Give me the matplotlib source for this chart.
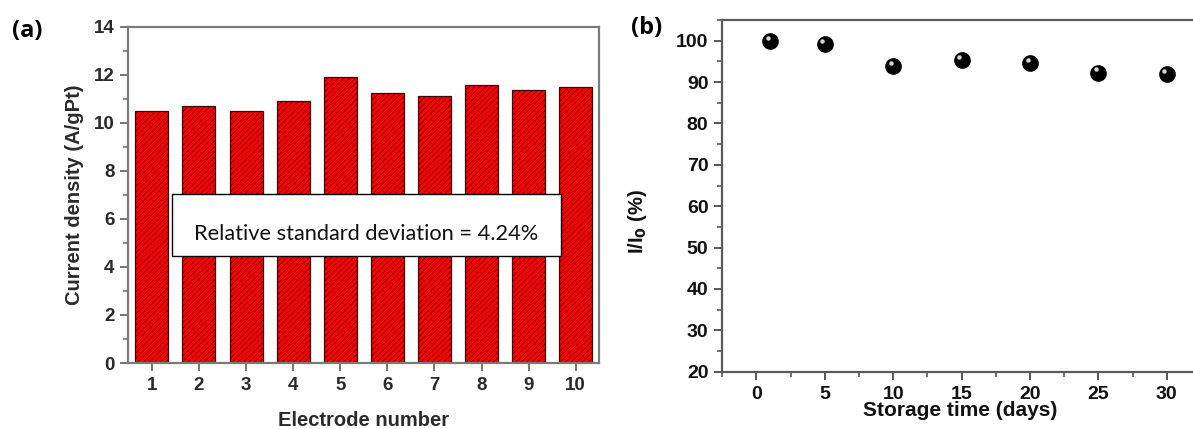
import numpy as np
import matplotlib
matplotlib.use('Agg')
import matplotlib.pyplot as plt
from matplotlib.patches import Rectangle
from matplotlib.ticker import MultipleLocator
import matplotlib.transforms as mtransforms

# panel (a) data
electrodes = [1, 2, 3, 4, 5, 6, 7, 8, 9, 10]
current_density = [10.5, 10.7, 10.5, 10.9, 11.92, 11.25, 11.13, 11.58, 11.35, 11.47]

# panel (b) data
storage_days = [1, 5, 10, 15, 20, 25, 30]
retention = [100.0, 99.1, 93.9, 95.3, 94.7, 92.3, 91.9]

W, H = 1193, 429
plt.rcParams['font.family'] = 'Liberation Sans'
plt.rcParams['hatch.linewidth'] = 0.45

fig = plt.figure(figsize=(W / 100, H / 100), dpi=100)

def frac(x0, y0, x1, y1):
    # pixel box -> figure fraction rect
    return [x0 / W, 1 - y1 / H, (x1 - x0) / W, (y1 - y0) / H]

# ---------------- (a) ----------------
ax1 = fig.add_axes(frac(128.3, 26.7, 599.3, 363.0))
ax1.bar(electrodes, current_density, width=0.7, color='#ff0000',
        edgecolor='#3a0808', linewidth=0.9, hatch='//////', zorder=2)
ax1.set_xlim(0.5, 10.5)
ax1.set_ylim(0, 14)
ax1.set_xticks(electrodes)
ax1.yaxis.set_major_locator(MultipleLocator(2))
ax1.yaxis.set_minor_locator(MultipleLocator(1))
for s in ax1.spines.values():
    s.set_color('#7a7a7a')
    s.set_linewidth(1.6)
ax1.tick_params(which='major', direction='out', length=6, width=1.3,
                color='#6a6a6a', labelsize=13.5, labelcolor='#2a2a2a', pad=4)
ax1.tick_params(which='minor', direction='out', length=3.5, width=1.1,
                color='#6a6a6a')
for lab in ax1.get_xticklabels() + ax1.get_yticklabels():
    lab.set_fontweight('bold')

# RSD text box
box = Rectangle((1.42, 4.46), 8.27, 2.56, facecolor='white',
                edgecolor='black', linewidth=1.0, zorder=5)
ax1.add_patch(box)
ax1.text(5.555, 5.36, 'Relative standard deviation = 4.24%', ha='center',
         va='center', fontsize=15.7, family='Lato', color='#111111', zorder=6)

fig.text(75 / W, 1 - 195 / H, 'Current density (A/gPt)', rotation=90,
         ha='center', va='center', fontsize=14.5, fontweight='bold',
         color='#2a2a2a')
fig.text(364 / W, 1 - 420 / H, 'Electrode number', ha='center',
         va='center', fontsize=14.5, fontweight='bold', color='#2a2a2a')
fig.text(27 / W, 1 - 31 / H, '(a)', ha='center', va='center',
         fontsize=17, fontweight='bold', family='Open Sans')

# ---------------- (b) ----------------
ax2 = fig.add_axes(frac(722.3, 20.0, 1201.0, 371.7))
ax2.scatter(storage_days, retention, s=11 ** 2, color='black', zorder=3)
hl = mtransforms.offset_copy(ax2.transData, fig=fig, x=-1.8, y=2.2,
                             units='points')
ax2.scatter(storage_days, retention, s=3.2 ** 2, color='#d8d8d8',
            transform=hl, zorder=4, linewidths=0)
ax2.set_xlim(-2.5, 32.5)
ax2.set_ylim(20, 105)
ax2.xaxis.set_major_locator(MultipleLocator(5))
ax2.xaxis.set_minor_locator(MultipleLocator(2.5))
ax2.yaxis.set_major_locator(MultipleLocator(10))
ax2.yaxis.set_minor_locator(MultipleLocator(5))
for s in ax2.spines.values():
    s.set_color('#5a5a5a')
    s.set_linewidth(1.6)
ax2.tick_params(which='major', direction='out', length=6, width=1.3,
                color='#4a4a4a', labelsize=14, labelcolor='#111111', pad=4)
ax2.tick_params(which='minor', direction='out', length=3.5, width=1.1,
                color='#4a4a4a')
for lab in ax2.get_xticklabels() + ax2.get_yticklabels():
    lab.set_fontweight('bold')

fig.text(637 / W, 1 - 221 / H, r'I/I$_\mathbf{0}$ (%)', rotation=90,
         ha='center', va='center', fontsize=14.5, fontweight='bold',
         color='#111111')
fig.text(960 / W, 1 - 411 / H, 'Storage time (days)', ha='center',
         va='center', fontsize=15, fontweight='bold', color='#111111')
fig.text(647 / W, 1 - 28 / H, '(b)', ha='center', va='center',
         fontsize=17, fontweight='bold', family='Open Sans')

fig.savefig('out.png', dpi=100)
